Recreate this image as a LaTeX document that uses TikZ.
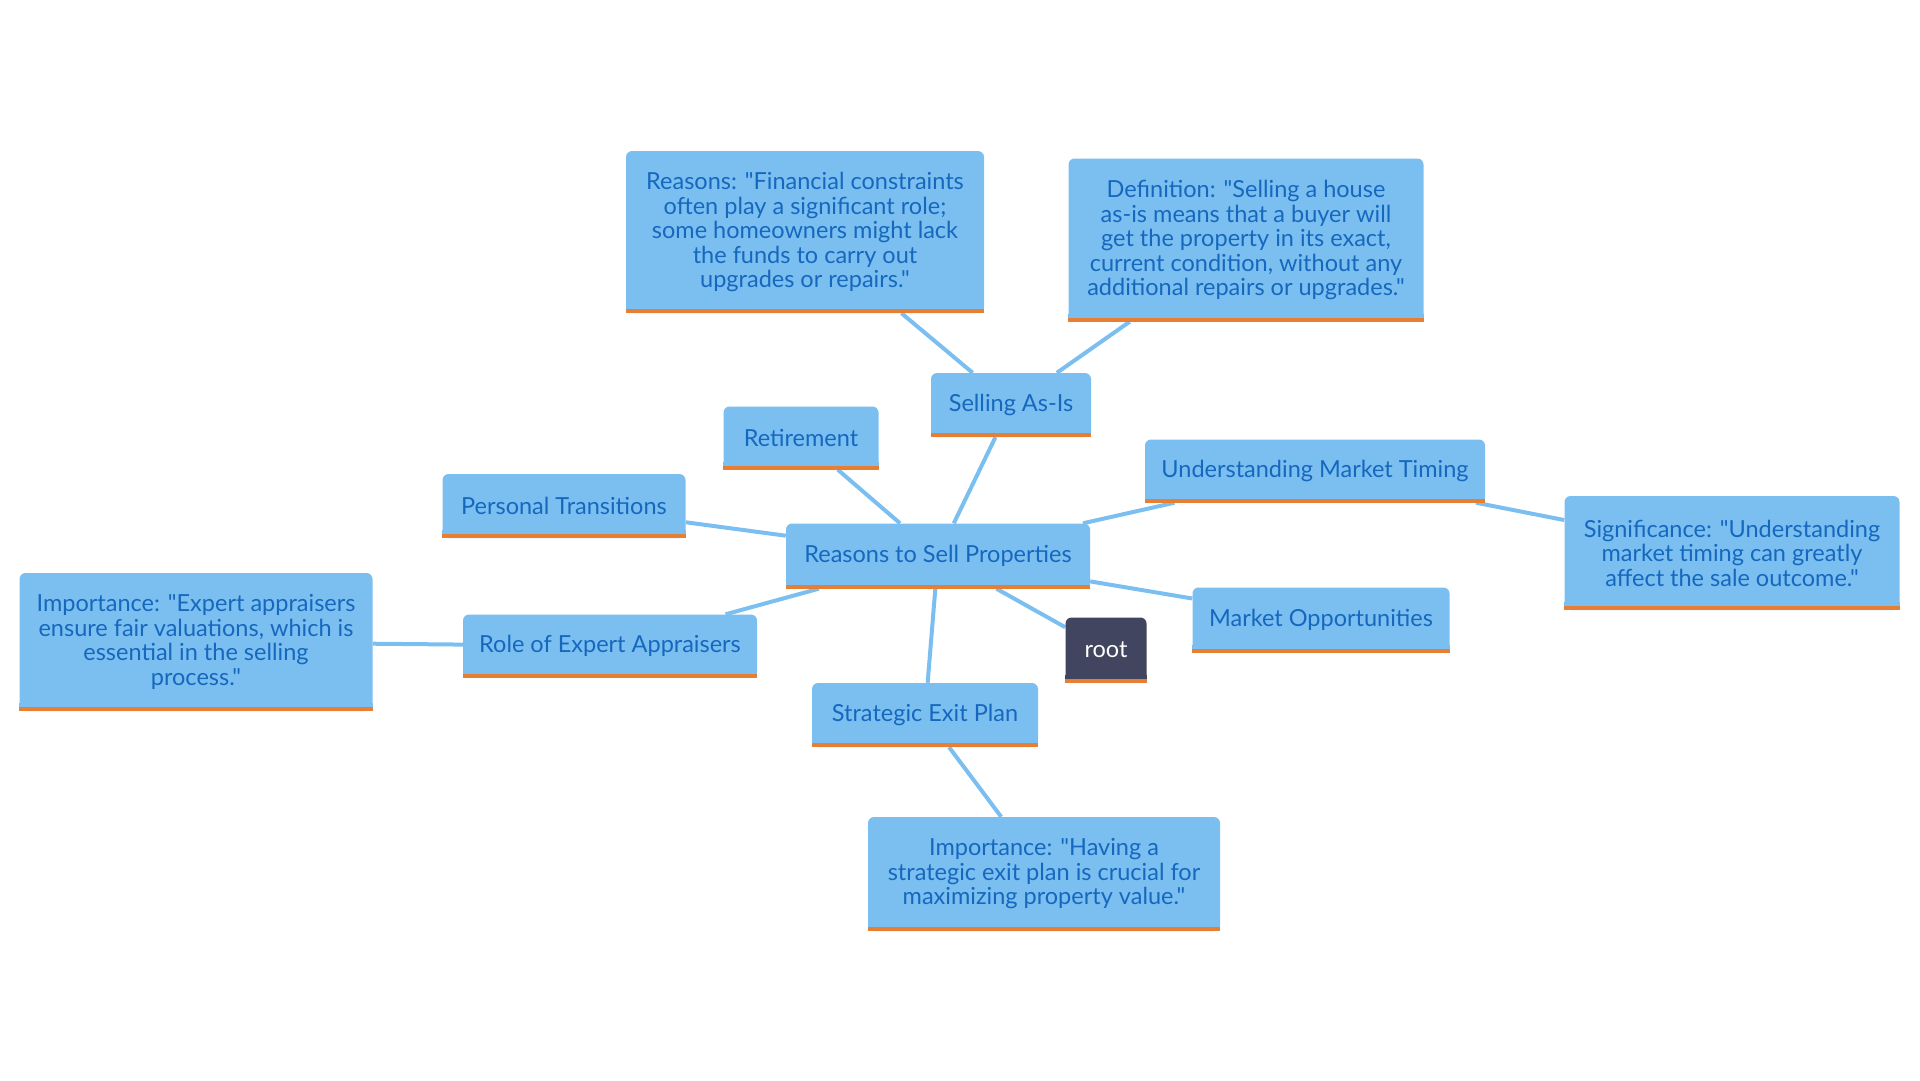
\documentclass[tikz,border=0pt]{standalone}
\usepackage{fontspec}
\setmainfont{Lato}[Ligatures=TeXOff]
\usetikzlibrary{backgrounds}
\definecolor{boxblue}{RGB}{123,191,241}
\definecolor{textblue}{RGB}{22,104,190}
\definecolor{barorange}{RGB}{230,126,52}
\definecolor{rootgray}{RGB}{66,69,96}
\tikzset{
  box/.style={fill=boxblue, text=textblue, rounded corners=6pt, align=center,
    inner sep=0pt, font=\fontsize{23.5}{24.5}\selectfont},
  rootbox/.style={box, fill=rootgray, text=white},
  link/.style={draw=boxblue, line width=4pt}
}
\begin{document}
\begin{tikzpicture}[x=1pt, y=-1pt]
    \useasboundingbox (0,0) rectangle (1920,1080);
    \node[box, minimum width=304, minimum height=65] (reasons) at (938,556) {Reasons to Sell Properties};
    \node[box, minimum width=160, minimum height=64] (asis) at (1011,405) {Selling As-Is};
    \node[box, minimum width=358, minimum height=162] (asisreason) at (805,232)
      {Reasons: "Financial constraints\\often play a significant role;\\some homeowners might lack\\the funds to carry out\\upgrades or repairs."};
    \node[box, minimum width=355, minimum height=163] (asisdef) at (1246,240)
      {Definition: "Selling a house\\as-is means that a buyer will\\get the property in its exact,\\current condition, without any\\additional repairs or upgrades."};
    \node[box, minimum width=155, minimum height=63] (retire) at (801,438) {Retirement};
    \node[box, minimum width=243, minimum height=64] (personal) at (564,506) {Personal Transitions};
    \node[box, minimum width=340, minimum height=63] (timing) at (1315,471) {Understanding Market Timing};
    \node[box, minimum width=335, minimum height=114] (timingsig) at (1732,553)
      {Significance: "Understanding\\market timing can greatly\\affect the sale outcome."};
    \node[box, minimum width=257, minimum height=65] (market) at (1321,620) {Market Opportunities};
    \node[rootbox, minimum width=81, minimum height=65] (root) at (1106,650) {root};
    \node[box, minimum width=294, minimum height=63] (appr) at (610,646) {Role of Expert Appraisers};
    \node[box, minimum width=353, minimum height=138] (apprimp) at (196,642)
      {Importance: "Expert appraisers\\ensure fair valuations, which is\\essential in the selling\\process."};
    \node[box, minimum width=226, minimum height=64] (exit) at (925,715) {Strategic Exit Plan};
    \node[box, minimum width=352, minimum height=114] (exitimp) at (1044,874)
      {Importance: "Having a\\strategic exit plan is crucial for\\maximizing property value."};

    % square bottom corners and orange bar
    \foreach \n/\c in {reasons/boxblue, asis/boxblue, asisreason/boxblue, asisdef/boxblue,
        retire/boxblue, personal/boxblue, timing/boxblue, timingsig/boxblue, market/boxblue,
        root/rootgray, appr/boxblue, apprimp/boxblue, exit/boxblue, exitimp/boxblue} {
      \fill[\c] ([yshift=8pt]\n.south west) rectangle (\n.south east);
      \fill[barorange] ([yshift=4pt]\n.south west) rectangle (\n.south east);
    }

    \begin{pgfonlayer}{background}
      \foreach \a/\b in {reasons/asis, reasons/retire, reasons/personal, reasons/timing,
          reasons/market, reasons/root, reasons/appr, reasons/exit, asis/asisreason,
          asis/asisdef, timing/timingsig, appr/apprimp, exit/exitimp}
        \draw[link] (\a) -- (\b);
    \end{pgfonlayer}
\end{tikzpicture}
\end{document}
